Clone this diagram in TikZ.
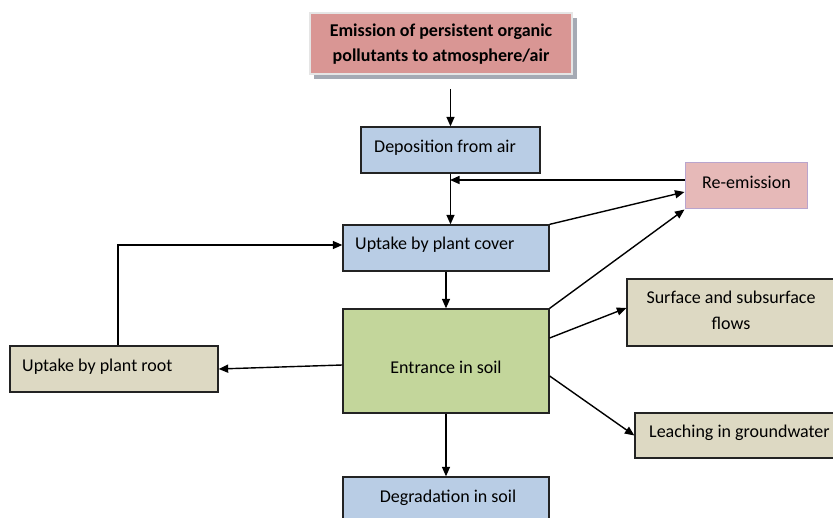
\documentclass[tikz,border=0pt]{standalone}
\usepackage{fontspec}
\setmainfont{Carlito}
\usetikzlibrary{arrows.meta}
\definecolor{toppink}{RGB}{217,150,148}
\definecolor{shadowc}{RGB}{165,170,180}
\definecolor{bluebox}{RGB}{185,205,229}
\definecolor{reemc}{RGB}{230,185,184}
\definecolor{reemb}{RGB}{185,165,205}
\definecolor{greenbox}{RGB}{195,214,155}
\definecolor{tanbox}{RGB}{221,217,195}
\definecolor{edgec}{RGB}{35,35,35}
\tikzset{
  boxst/.style={draw=edgec, line width=1.3pt, rectangle, inner sep=0pt},
  txt/.style={inner sep=0pt, font=\fontsize{18}{26}\selectfont},
  arr/.style={draw=black, line width=1.4pt, -{Triangle[length=9.5pt,width=8pt]}},
}
\begin{document}
\begin{tikzpicture}[x=1pt,y=-1pt]
\clip (0,0) rectangle (833,518);
\fill[white] (0,0) rectangle (833,518);
% shadow of top box
\fill[shadowc] (314,18) rectangle (577,79);
\node[boxst, draw=white!80!gray, line width=1.8pt, fill=toppink, minimum width=262pt, minimum height=61pt] (top) at (441,43.5) {};
\node[inner sep=0pt, anchor=base, font=\fontsize{18}{25}\selectfont\bfseries] (topT1) at (441,37) {Emission of persistent organic};
\node[inner sep=0pt, anchor=base, font=\fontsize{18}{25}\selectfont\bfseries] (topT2) at (441,62) {pollutants to atmosphere/air};
% boxes
\node[boxst, fill=bluebox, minimum width=179pt, minimum height=46pt] (dep) at (450.5,150) {};
\node[boxst, draw=reemb, line width=1pt, fill=reemc, minimum width=122pt, minimum height=46pt] (reem) at (746,186) {};
\node[boxst, fill=bluebox, minimum width=206pt, minimum height=46pt] (cover) at (446,248) {};
\node[boxst, fill=greenbox, minimum width=206pt, minimum height=104pt] (soil) at (446,361) {};
\node[boxst, fill=tanbox, minimum width=208pt, minimum height=46pt] (root) at (114,369) {};
\node[boxst, fill=tanbox, minimum width=213pt, minimum height=67pt] (surf) at (733.5,312.5) {};
\node[boxst, fill=tanbox, minimum width=205pt, minimum height=45pt] (leach) at (737.5,435.5) {};
\node[boxst, fill=bluebox, minimum width=206pt, minimum height=48pt] (degr) at (446,501) {};
% texts
\node[txt, anchor=base west] (depT) at (374,153) {Deposition from air};
\node[txt, anchor=base] (reemT) at (746.5,189) {Re-emission};
\node[txt, anchor=base west] (coverT) at (355,249.5) {Uptake by plant cover};
\node[txt, anchor=base] (soilT) at (446,374) {Entrance in soil};
\node[txt, anchor=base west] (rootT) at (22,371.5) {Uptake by plant root};
\node[txt, anchor=base] (surfT1) at (731,304) {Surface and subsurface};
\node[txt, anchor=base] (surfT2) at (731,330) {flows};
\node[txt, anchor=base west] (leachT) at (649,438) {Leaching in groundwater};
\node[txt, anchor=base] (degrT) at (448,502) {Degradation in soil};
% connectors
\coordinate (j) at (450,180);
\draw[arr, shorten <=14pt] (top.south -| dep.north) -- (dep.north);
\draw[arr] (dep.south) -- (dep.south |- cover.north);
\draw[arr] ([yshift=6pt]reem.west) -- (j);
\draw[arr] (cover.north east) -- ([yshift=-6pt]reem.west);
\draw[arr] (cover.south) -- (cover.south |- soil.north);
\draw[arr] (soil.north east) -- (reem.south west);
\draw[arr] ([yshift=23pt]soil.east) -- ([yshift=4.5pt]surf.west);
\draw[arr] ([yshift=-15pt]soil.east) -- (leach.west);
\draw[arr] (soil.south) -- (soil.south |- degr.north);
\draw[arr] ([yshift=-4pt]soil.west) -- (root.east);
\draw[arr] ([xshift=4pt]root.north) |- ([yshift=3pt]cover.west);
\end{tikzpicture}
\end{document}
